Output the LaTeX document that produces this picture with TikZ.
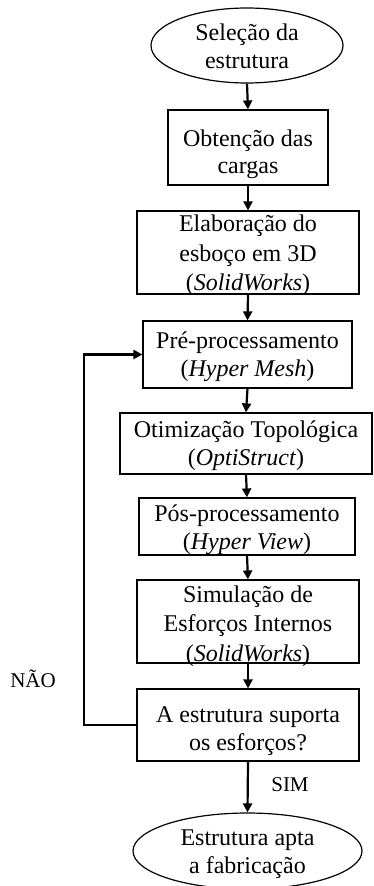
\documentclass[tikz,border=0pt]{standalone}
\usepackage{fontspec}
\setmainfont{Liberation Serif}
\usetikzlibrary{shapes.geometric,arrows.meta}
\tikzset{
  txt/.style={font=\fontsize{24}{28}\selectfont, align=center, inner sep=0pt},
  txtiii/.style={font=\fontsize{24}{29.5}\selectfont, align=center, inner sep=0pt},
  stepbox/.style={draw, line width=1.2pt, rectangle, inner sep=0pt},
  endpoint/.style={draw, line width=1.2pt, ellipse, inner sep=0pt},
  lbl/.style={inner sep=0pt, font=\fontsize{21}{23}\selectfont},
  flow/.style={line width=2.2pt, -{Triangle[length=9pt,width=9pt]}},
}
\begin{document}
\begin{tikzpicture}[x=1pt,y=-1pt]
\useasboundingbox (0,0) rectangle (373,886);

% outlines of the process steps
\node[endpoint, minimum width=192pt, minimum height=75pt] (s1) at (247,45.5) {};
\node[stepbox, minimum width=160pt, minimum height=75pt] (s2) at (248,147.5) {};
\node[stepbox, minimum width=222pt, minimum height=83pt] (s3) at (248,252.5) {};
\node[stepbox, minimum width=209pt, minimum height=67pt] (s4) at (247.5,354.5) {};
\node[stepbox, minimum width=252pt, minimum height=61pt] (s5) at (246,443.5) {};
\node[stepbox, minimum width=216pt, minimum height=57pt] (s6) at (247,526.5) {};
\node[stepbox, minimum width=222pt, minimum height=83pt] (s7) at (248,621.5) {};
\node[stepbox, minimum width=222pt, minimum height=72pt] (s8) at (248,725) {};
\node[endpoint, minimum width=229pt, minimum height=76pt] (s9) at (247.5,851) {};

% step texts
\node[txt] (t1) at ([yshift=-1pt]s1.center) {Seleção da\\estrutura};
\node[txt, font=\fontsize{24}{27.5}\selectfont] (t2) at ([yshift=-7pt]s2.center) {Obtenção das\\cargas};
\node[txtiii] (t3) at ([yshift=-3pt]s3.center) {Elaboração do\\esboço em 3D\\(\textit{SolidWorks})};
\node[txt] (t4) at ([yshift=-2pt]s4.center) {Pré-processamento\\(\textit{Hyper Mesh})};
\node[txt] (t5) at ([yshift=-2.5pt]s5.center) {Otimização Topológica\\(\textit{OptiStruct})};
\node[txt] (t6) at ([yshift=-3pt]s6.center) {Pós-processamento\\(\textit{Hyper View})};
\node[txtiii] (t7) at ([yshift=-4.5pt]s7.center) {Simulação de\\Esforços Internos\\(\textit{SolidWorks})};
\node[txt] (t8) at ([yshift=-6pt]s8.center) {A estrutura suporta\\os esforços?};
\node[txt] (t9) at ([yshift=-3.5pt]s9.center) {Estrutura apta\\a fabricação};

\node[lbl] (nao) at (33,679) {NÃO};
\node[lbl] (sim) at (290,785) {SIM};

\draw[flow] (s1.south) -- (s2.north);
\draw[flow] (s2.south) -- (s3.north);
\draw[flow] (s3.south) -- (s4.north);
\draw[flow] (s4.south) -- (s5.north);
\draw[flow] (s5.south) -- (s6.north);
\draw[flow] (s6.south) -- (s7.north);
\draw[flow] (s7.south) -- (s8.north);
\draw[flow] (s8.south) -- (s9.north);

% return path from the check back to pre-processing
\coordinate (loopbot) at (84,725);
\coordinate (looptop) at (84,354.5);
\draw[flow] (s8.west) -- (loopbot) -- (looptop) -- (s4.west);
\end{tikzpicture}
\end{document}
